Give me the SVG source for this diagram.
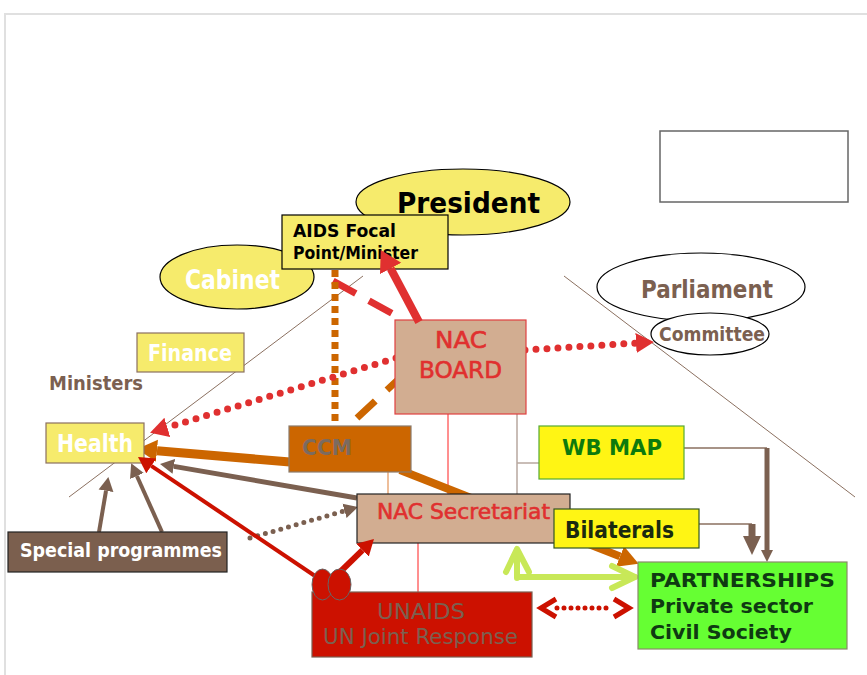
<svg xmlns="http://www.w3.org/2000/svg" width="867" height="675" viewBox="0 0 867 675">
<defs>
<style>
.t{font-family:"DejaVu Sans","Liberation Sans",sans-serif;font-weight:bold}
.n{font-family:"DejaVu Sans","Liberation Sans",sans-serif;font-weight:normal}
.nr{stroke:#e0302f;stroke-width:0.6}
.yel{fill:#f6eb6c;stroke:#000;stroke-width:1.2}
.tan{fill:#d2ad91}
.thin{fill:none;stroke:#8b7060;stroke-width:1}
</style>
<marker id="hRed" markerUnits="userSpaceOnUse" markerWidth="20" markerHeight="22" viewBox="0 -11 20 22" refX="0" refY="0" orient="auto"><path d="M0,-10 L18,0 L0,10 z" fill="#e03030"/></marker>
<marker id="hRedBig" markerUnits="userSpaceOnUse" markerWidth="22" markerHeight="26" viewBox="0 -13 22 26" refX="0" refY="0" orient="auto"><path d="M0,-12 L21,0 L0,12 z" fill="#e03030"/></marker>
<marker id="hOrange" markerUnits="userSpaceOnUse" markerWidth="22" markerHeight="24" viewBox="0 -12 22 24" refX="0" refY="0" orient="auto"><path d="M0,-11 L20,0 L0,11 z" fill="#cc6600"/></marker>
<marker id="hBrown" markerUnits="userSpaceOnUse" markerWidth="16" markerHeight="18" viewBox="0 -9 16 18" refX="0" refY="0" orient="auto"><path d="M0,-7.5 L14,0 L0,7.5 z" fill="#7b6050"/></marker>
<marker id="hDark" markerUnits="userSpaceOnUse" markerWidth="18" markerHeight="20" viewBox="0 -10 18 20" refX="0" refY="0" orient="auto"><path d="M0,-9 L16,0 L0,9 z" fill="#cc1100"/></marker>
</defs>
<rect width="867" height="675" fill="#fff"/>
<g id="frame" fill="none" stroke="#e0e0e0" stroke-width="2">
<path d="M5,675 V14 H867"/>
</g>
<g id="empty-box"><rect x="660" y="131" width="188" height="71" fill="#fff" stroke="#666" stroke-width="1.5"/></g>
<g id="dividers">
<line class="thin" x1="69" y1="497" x2="363" y2="276"/>
<line class="thin" x1="564" y1="276" x2="855" y2="497"/>
</g>
<g id="connectors">
<line x1="448" y1="414" x2="448" y2="494" stroke="#ff2020" stroke-width="1"/>
<line x1="418" y1="543" x2="418" y2="592" stroke="#ff2020" stroke-width="1"/>
<line x1="388" y1="472" x2="388" y2="494" stroke="#e8a878" stroke-width="1.5"/>
<path d="M517,414 V494 M517,463 H539" fill="none" stroke="#b8a8a0" stroke-width="1.5"/>
<line x1="333" y1="281" x2="395" y2="315" stroke="#e03030" stroke-width="7" stroke-dasharray="26 15"/>
<line x1="335" y1="270" x2="335" y2="422" stroke="#cc6600" stroke-width="7" stroke-dasharray="7 5"/>
<line x1="357" y1="418" x2="402" y2="376" stroke="#cc6600" stroke-width="7" stroke-dasharray="25 16"/>
<line x1="400" y1="470" x2="620" y2="556.4" stroke="#cc6600" stroke-width="8" marker-end="url(#hOrange)"/>
<line x1="290" y1="462" x2="157" y2="450.7" stroke="#cc6600" stroke-width="9" marker-end="url(#hOrange)"/>
<line x1="357" y1="498" x2="173.8" y2="466.4" stroke="#7b6050" stroke-width="5" marker-end="url(#hBrown)"/>
<path d="M396,358 L167.3,427.4" fill="none" stroke="#e03030" stroke-width="7" stroke-linecap="round" stroke-dasharray="0 11" marker-end="url(#hRed)"/>
<path d="M525,350 L636,343.1" fill="none" stroke="#e03030" stroke-width="7" stroke-linecap="round" stroke-dasharray="0 11" marker-end="url(#hRed)"/>
<path d="M250,538 L344.5,510.9" fill="none" stroke="#7b6050" stroke-width="5" stroke-linecap="round" stroke-dasharray="0 8" marker-end="url(#hBrown)"/>
<line x1="99" y1="532" x2="106" y2="490.8" stroke="#7b6050" stroke-width="4" marker-end="url(#hBrown)"/>
<line x1="162" y1="532" x2="136.9" y2="476" stroke="#7b6050" stroke-width="4" marker-end="url(#hBrown)"/>
<path d="M684,448 H767 M699,524 H752" fill="none" stroke="#8b7060" stroke-width="1.5"/>
<path d="M767,448 V550" fill="none" stroke="#7b6050" stroke-width="5"/>
<path d="M761,550 L773,550 L767,562 z" fill="#7b6050"/>
<path d="M752,524 V537" fill="none" stroke="#7b6050" stroke-width="7"/>
<path d="M743,536 L761,536 L752,555 z" fill="#7b6050"/>
<g fill="none" stroke="#c8e858" stroke-width="6" stroke-linecap="round" stroke-linejoin="round">
<path d="M517,578 V550 M517,577 H635"/>
<path d="M506,572 L517,549 L529,572"/>
<path d="M612,566 L635,577 L612,588"/>
</g>
<path d="M557,608 H613" fill="none" stroke="#cc1100" stroke-width="5" stroke-linecap="round" stroke-dasharray="0 7"/>
<path d="M556,599 L541,608 L556,617 M614,599 L629,608 L614,617" fill="none" stroke="#cc1100" stroke-width="5" stroke-linejoin="miter"/>
</g>
<g id="president"><ellipse cx="463" cy="202" rx="107" ry="33" class="yel"/><text x="397" y="213" class="t" font-size="29" fill="#000" textLength="143" lengthAdjust="spacingAndGlyphs">President</text></g>
<g id="cabinet"><ellipse cx="237" cy="277" rx="77" ry="32" class="yel"/><text x="185" y="289" class="t" font-size="26" fill="#fff" textLength="95" lengthAdjust="spacingAndGlyphs">Cabinet</text></g>
<g id="aids-focal"><rect x="282" y="215" width="166" height="54" class="yel"/><text x="293" y="237" class="t" font-size="17" fill="#000" textLength="103" lengthAdjust="spacingAndGlyphs">AIDS Focal</text><text x="293" y="259" class="t" font-size="17" fill="#000" textLength="125" lengthAdjust="spacingAndGlyphs">Point/Minister</text></g>
<g id="parliament"><ellipse cx="701" cy="287" rx="104" ry="34" fill="#fff" stroke="#000" stroke-width="1.2"/><text x="641" y="298" class="t" font-size="25" fill="#7b6050" textLength="132" lengthAdjust="spacingAndGlyphs">Parliament</text></g>
<g id="committee"><ellipse cx="710" cy="334" rx="59" ry="21" fill="#fff" stroke="#000" stroke-width="1.2"/><text x="659" y="341" class="t" font-size="19" fill="#7b6050" textLength="106" lengthAdjust="spacingAndGlyphs">Committee</text></g>
<g id="finance"><rect x="137" y="333" width="107" height="39" fill="#f6eb6c" stroke="#8b7060" stroke-width="1.2"/><text x="148" y="361" class="t" font-size="23" fill="#fff" textLength="84" lengthAdjust="spacingAndGlyphs">Finance</text></g>
<g id="ministers"><text x="49" y="390" class="t" font-size="19" fill="#7b6050" textLength="94" lengthAdjust="spacingAndGlyphs">Ministers</text></g>
<g id="health"><rect x="46" y="423" width="98" height="40" fill="#f6eb6c" stroke="#8b7060" stroke-width="1.2"/><text x="57" y="452" class="t" font-size="24" fill="#fff" textLength="76" lengthAdjust="spacingAndGlyphs">Health</text></g>
<g id="special-programmes"><rect x="8" y="532" width="219" height="40" fill="#7b5f4e" stroke="#222" stroke-width="1.2"/><text x="20" y="557" class="t" font-size="19" fill="#fff" textLength="202" lengthAdjust="spacingAndGlyphs">Special programmes</text></g>
<g id="nac-board"><rect x="395" y="320" width="131" height="94" class="tan" stroke="#e04040" stroke-width="1.2"/><text x="435" y="348" class="n nr" font-size="23" fill="#e0302f" textLength="52" lengthAdjust="spacingAndGlyphs">NAC</text><text x="419" y="378" class="n nr" font-size="23" fill="#e0302f" textLength="83" lengthAdjust="spacingAndGlyphs">BOARD</text></g>
<g id="ccm"><rect x="289" y="426" width="122" height="46" fill="#cc6600" stroke="#8b7b6b" stroke-width="1.2"/><text x="302" y="455" class="t" font-size="22" fill="#7b6b60" textLength="50" lengthAdjust="spacingAndGlyphs">CCM</text></g>
<g id="nac-secretariat"><rect x="357" y="494" width="213" height="49" class="tan" stroke="#222" stroke-width="1.2"/><text x="377" y="519" class="n nr" font-size="21" fill="#e0302f" textLength="173" lengthAdjust="spacingAndGlyphs">NAC Secretariat</text></g>
<g id="wb-map"><rect x="539" y="426" width="145" height="53" fill="#fff514" stroke="#55aa33" stroke-width="1.2"/><text x="562" y="455" class="t" font-size="22" fill="#0d7a0d" textLength="100" lengthAdjust="spacingAndGlyphs">WB MAP</text></g>
<g id="bilaterals"><rect x="554" y="509" width="145" height="39" fill="#fff514" stroke="#335522" stroke-width="1.2"/><text x="565" y="538" class="t" font-size="23" fill="#1a2a10" textLength="109" lengthAdjust="spacingAndGlyphs">Bilaterals</text></g>
<g id="partnerships"><rect x="638" y="562" width="209" height="87" fill="#66ff33" stroke="#8a8a6a" stroke-width="1.2"/><text class="t" font-size="19" fill="#0f3a12"><tspan x="650" y="587" textLength="185" lengthAdjust="spacingAndGlyphs">PARTNERSHIPS</tspan><tspan x="650" y="613" textLength="163" lengthAdjust="spacingAndGlyphs">Private sector</tspan><tspan x="650" y="639" textLength="142" lengthAdjust="spacingAndGlyphs">Civil Society</tspan></text></g>
<g id="unaids"><rect x="312" y="592" width="220" height="65" fill="#cc1100" stroke="#7b6050" stroke-width="1.2"/><text x="377" y="619" class="n" font-size="21" fill="#7b6050" textLength="88" lengthAdjust="spacingAndGlyphs">UNAIDS</text><text x="323" y="644" class="n" font-size="21" fill="#7b6050" textLength="195" lengthAdjust="spacingAndGlyphs">UN Joint Response</text></g>
<g id="connectors-top">
<line x1="419" y1="322" x2="390.6" y2="268.5" stroke="#e03030" stroke-width="8" marker-end="url(#hRedBig)"/>
<line x1="318" y1="578" x2="151.3" y2="465.9" stroke="#cc1100" stroke-width="4" marker-end="url(#hDark)"/>
<line x1="340" y1="572" x2="362.5" y2="550.1" stroke="#cc1100" stroke-width="6" marker-end="url(#hDark)"/>
</g>
<g id="unaids-circles"><ellipse cx="322.5" cy="584.5" rx="10.5" ry="15.5" fill="#cc1100" stroke="#666" stroke-width="1"/><ellipse cx="339.5" cy="584.5" rx="11.5" ry="15.5" fill="#cc1100" stroke="#666" stroke-width="1"/></g>
</svg>
